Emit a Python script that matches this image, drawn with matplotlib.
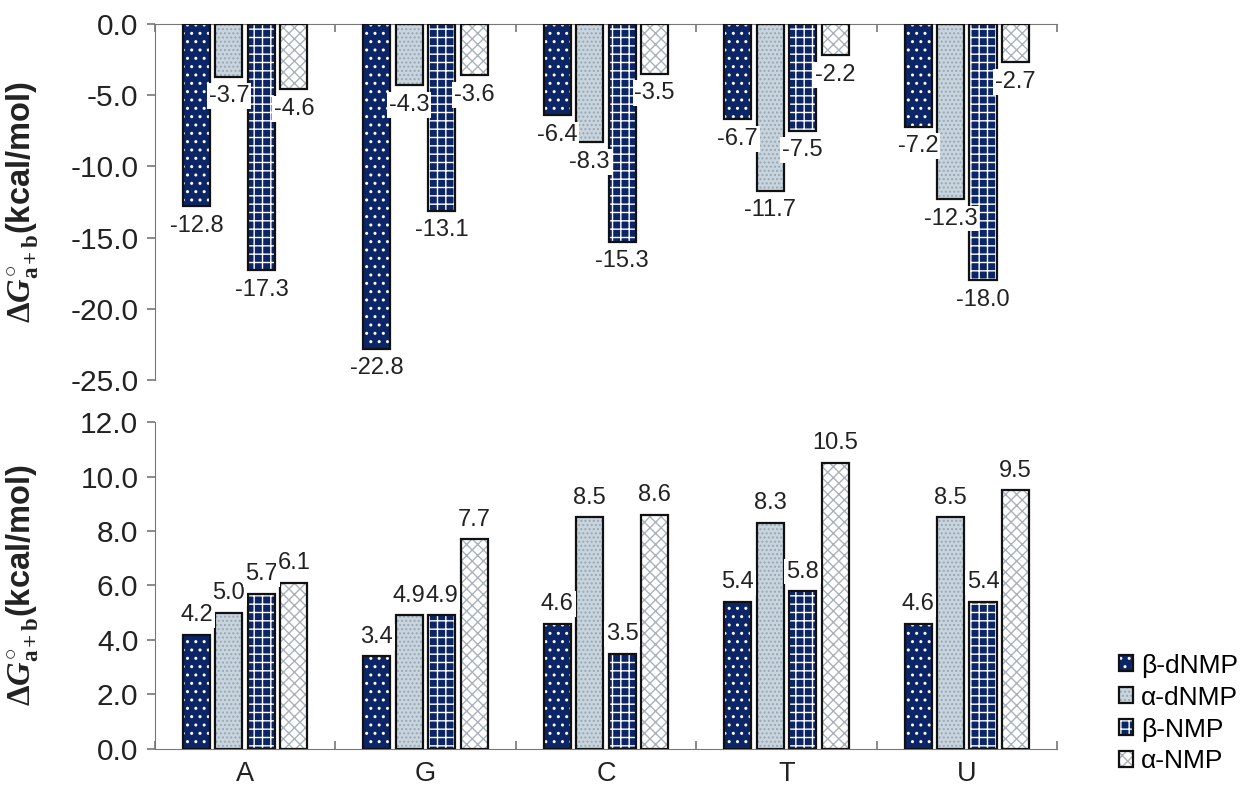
import matplotlib
matplotlib.use("Agg")
import matplotlib.pyplot as plt
import numpy as np

plt.rcParams['font.family'] = ['Liberation Sans', 'DejaVu Sans']
plt.rcParams['mathtext.fontset'] = 'custom'
plt.rcParams['mathtext.rm'] = 'Liberation Serif:bold'
plt.rcParams['mathtext.it'] = 'Liberation Serif:italic:bold'
plt.rcParams['mathtext.bf'] = 'Liberation Serif:bold'
plt.rcParams['hatch.linewidth'] = 1.0

# data
bases = ['A', 'G', 'C', 'T', 'U']
series = ['β-dNMP', 'α-dNMP', 'β-NMP', 'α-NMP']

top_vals = {
    'β-dNMP': [-12.8, -22.8, -6.4, -6.7, -7.2],
    'α-dNMP': [-3.7, -4.3, -8.3, -11.7, -12.3],
    'β-NMP': [-17.3, -13.1, -15.3, -7.5, -18.0],
    'α-NMP': [-4.6, -3.6, -3.5, -2.2, -2.7],
}
bottom_vals = {
    'β-dNMP': [4.2, 3.4, 4.6, 5.4, 4.6],
    'α-dNMP': [5.0, 4.9, 8.5, 8.3, 8.5],
    'β-NMP': [5.7, 4.9, 3.5, 5.8, 5.4],
    'α-NMP': [6.1, 7.7, 8.6, 10.5, 9.5],
}

# style per series: face, hatch, hatch colour
styles = {
    'β-dNMP': ('#0b2566', '..', 'white'),
    'α-dNMP': ('#c9d5de', '....', '#98a8b4'),
    'β-NMP': ('#0b2566', '++', 'white'),
    'α-NMP': ('white', 'xxx', '#a9b2ba'),
}

fig = plt.figure(figsize=(12.47, 7.94), dpi=100)
ax_top = fig.add_axes([0.1243, 0.5214, 0.7233, 0.4484])
ax_bot = fig.add_axes([0.1243, 0.0567, 0.7233, 0.4118])

x = np.arange(len(bases))
step = 0.18
width = 0.15
offsets = (np.arange(len(series)) - 1.5) * step

ylab = r'$\mathbf{\Delta}\mathit{G}^{\circ}_{\mathrm{a+b}}$(kcal/mol)'

handles = []
for ax, data, sign in [(ax_top, top_vals, -1), (ax_bot, bottom_vals, 1)]:
    for i, s in enumerate(series):
        face, hatch, hcol = styles[s]
        xs = x + offsets[i]
        # hatched fill first, then a black outline on top
        fill = ax.bar(xs, data[s], width, color=face, hatch=hatch,
                      edgecolor=hcol, linewidth=0, zorder=2)
        line = ax.bar(xs, data[s], width, facecolor='none',
                      edgecolor='#111111', linewidth=1.6, zorder=3)
        if ax is ax_bot:
            handles.append((fill, line))
        for xi, v in zip(xs, data[s]):
            ax.annotate('%.1f' % v, (xi, v), xytext=(0, 14 * sign),
                        textcoords='offset points', ha='center', va='center',
                        fontsize=17, color='#222222', zorder=5,
                        bbox=dict(boxstyle='square,pad=0.08', fc='white', ec='none'))

    ax.set_xlim(-0.5, 4.5)
    ax.spines['right'].set_visible(False)
    ax.spines['left'].set_color('#777777')
    ax.tick_params(axis='y', labelsize=21.5, colors='#222222', length=6,
                   color='#777777', width=1.2, pad=6)
    ax.set_ylabel(ylab, fontsize=23.5, fontweight='bold', color='#222222')
    ax.yaxis.set_label_coords(-0.128, 0.5)
    ax.yaxis.set_major_formatter(matplotlib.ticker.FormatStrFormatter('%.1f'))

# top panel
ax_top.set_ylim(-25, 0)
ax_top.set_yticks(np.arange(-25, 0.1, 5))
ax_top.spines['bottom'].set_visible(False)
ax_top.spines['top'].set_color('#777777')
ax_top.xaxis.set_ticks_position('top')
ax_top.set_xticks(np.arange(-0.5, 4.6, 1.0))
ax_top.set_xticklabels([])
ax_top.tick_params(axis='x', direction='in', length=6, color='#777777', width=1.2)

# bottom panel
ax_bot.set_ylim(0, 12)
ax_bot.set_yticks(np.arange(0, 12.1, 2))
ax_bot.spines['top'].set_visible(False)
ax_bot.spines['bottom'].set_color('#777777')
ax_bot.set_xticks(np.arange(-0.5, 4.6, 1.0), minor=True)
ax_bot.set_xticks(x)
ax_bot.set_xticklabels(bases, fontsize=19.5, color='#222222')
ax_bot.tick_params(axis='x', which='major', length=0, pad=9)
ax_bot.tick_params(axis='x', which='minor', direction='in', length=6,
                   color='#777777', width=1.2)

fig.legend(handles, series, loc='lower left', bbox_to_anchor=(0.878, -0.004),
           frameon=False, fontsize=19, handlelength=0.55, handleheight=0.55,
           handletextpad=0.3, labelspacing=0.3)

fig.savefig('out.png', dpi=100)
